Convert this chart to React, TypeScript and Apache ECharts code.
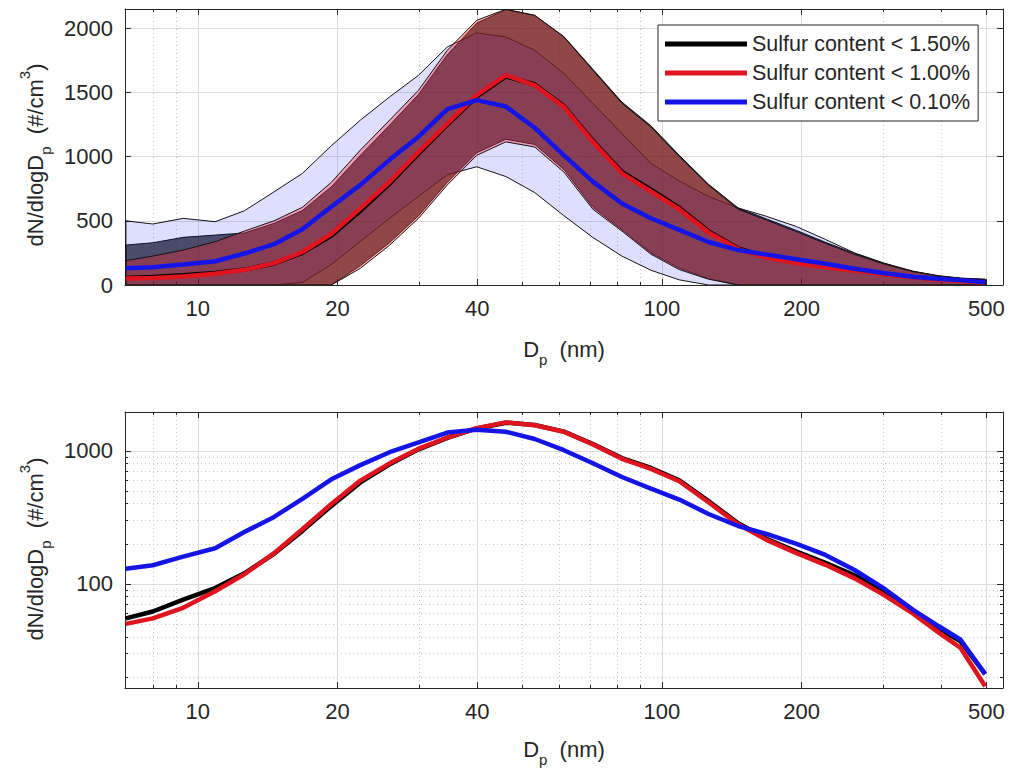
import React, { useEffect, useRef } from "react";
import * as echarts from "echarts";

// Particle diameter bins (nm)
const DP = [7.0, 8.0, 9.3, 10.9, 12.6, 14.6, 16.8, 19.4, 22.4, 25.9, 29.9, 34.5, 39.9, 46.1, 53.2, 61.5, 71.0, 82.0, 94.7, 109, 126, 146, 168, 195, 225, 260, 300, 347, 395, 440, 497];

// Median size distributions (#/cm3)
const K_MED = [55, 62, 76, 93, 120, 168, 250, 385, 578, 790, 1025, 1250, 1470, 1625, 1562, 1393, 1123, 880, 742, 600, 418, 285, 218, 175, 144, 116, 88, 63, 46, 37, 21];
const R_MED = [50, 55, 66, 88, 118, 170, 257, 398, 597, 804, 1037, 1258, 1479, 1634, 1556, 1388, 1115, 870, 730, 590, 410, 280, 214, 170, 139, 110, 83, 60, 43, 33, 17];
const B_MED = [130, 138, 160, 185, 245, 318, 435, 610, 780, 975, 1155, 1370, 1440, 1390, 1225, 1010, 805, 635, 520, 430, 335, 272, 237, 200, 165, 127, 93, 64, 48, 38, 21];

// Variability bands (upper / lower edges)
const K_HI = [311, 329, 371, 389, 405, 480, 580, 765, 1010, 1245, 1485, 1795, 2040, 2145, 2100, 1935, 1680, 1425, 1240, 1010, 785, 600, 515, 425, 333, 246, 170, 107, 72, 54, 45];
const K_LO = [0, 0, 0, 0, 0, 0, 0, 0, 150, 330, 540, 800, 1030, 1135, 1095, 900, 605, 430, 250, 130, 50, 0, 0, 0, 0, 0, 0, 0, 0, 0, 0];
const R_HI = [190, 225, 272, 337, 420, 500, 605, 800, 1051, 1284, 1518, 1829, 2062, 2148, 2101, 1932, 1673, 1416, 1230, 1000, 778, 590, 506, 415, 324, 239, 165, 104, 70, 52, 44];
const R_LO = [0, 0, 0, 0, 0, 0, 0, 0, 130, 310, 520, 780, 1010, 1115, 1075, 880, 590, 420, 240, 120, 45, 0, 0, 0, 0, 0, 0, 0, 0, 0, 0];
const B_HI = [500, 475, 519, 493, 578, 726, 869, 1085, 1284, 1465, 1634, 1855, 1964, 1932, 1829, 1647, 1414, 1180, 947, 810, 690, 600, 535, 455, 355, 250, 172, 108, 68, 50, 40];
const B_LO = [0, 0, 0, 0, 0, 0, 20, 160, 340, 520, 690, 860, 921, 845, 720, 540, 370, 225, 115, 40, 0, 0, 0, 0, 0, 0, 0, 0, 0, 0, 0];

const NAMES = ["Sulfur content < 1.50%", "Sulfur content < 1.00%", "Sulfur content < 0.10%"];

// Tick values
const X_MAJOR = [10, 20, 40, 100, 200, 500];
const X_MINOR = [8, 9, 30, 50, 60, 70, 80, 90, 300, 400];
const Y1_TICKS = [0, 500, 1000, 1500, 2000];
const Y2_MAJOR = [100, 1000];
const Y2_MINOR = [20, 30, 40, 50, 60, 70, 80, 90, 200, 300, 400, 500, 600, 700, 800, 900];

const X_MIN = 6.97;
const X_MAX = 543;
const FONT = "'Liberation Sans', Arial, Helvetica, sans-serif";
const AX = "#262626";
const GRID_MAJ = "#dcdcdc";
const GRID_MIN = "#c8c8c8";
const C_K = "#000000";
const C_R = "#e0141e";
const C_B = "#1414e6";

const fmt = (v: number) => String(Math.round(v));

function tickAxis(base: any, values: number[], len: number, showLine: boolean, split: any) {
  return {
    ...base,
    axisLine: { show: showLine, onZero: false, lineStyle: { color: AX, width: 1 } },
    axisTick: { show: true, inside: true, length: len, customValues: values, lineStyle: { color: AX, width: 1 } },
    axisLabel: { show: false },
    splitLine: split,
    minorTick: { show: false },
    minorSplitLine: { show: false },
  };
}

function xAxesFor(g: number) {
  const base = { type: "log", logBase: 10, gridIndex: g, min: X_MIN, max: X_MAX };
  const main = {
    ...base,
    position: "bottom",
    axisLine: { show: true, onZero: false, lineStyle: { color: AX, width: 1 } },
    axisTick: { show: true, inside: true, length: 6, customValues: X_MAJOR, lineStyle: { color: AX } },
    axisLabel: { show: true, customValues: X_MAJOR, formatter: fmt, margin: 12, color: AX, fontSize: 22, fontFamily: FONT },
    splitLine: { show: true, lineStyle: { color: GRID_MAJ, width: 1 } },
    minorTick: { show: false },
    minorSplitLine: { show: false },
  };
  return [
    main,
    tickAxis({ ...base, position: "bottom" }, X_MINOR, 3, false, { show: true, lineStyle: { color: GRID_MIN, width: 1, type: [1, 3] } }),
    tickAxis({ ...base, position: "top" }, X_MAJOR, 6, true, { show: false }),
    tickAxis({ ...base, position: "top" }, X_MINOR, 3, false, { show: false }),
  ];
}

const yAxes: any[] = [
  // grid 0 (linear)
  {
    type: "value", gridIndex: 0, min: 0, max: 2150, position: "left",
    axisLine: { show: true, onZero: false, lineStyle: { color: AX, width: 1 } },
    axisTick: { show: true, inside: true, length: 6, customValues: Y1_TICKS, lineStyle: { color: AX } },
    axisLabel: { show: true, customValues: Y1_TICKS, formatter: fmt, margin: 12, color: AX, fontSize: 22, fontFamily: FONT },
    splitLine: { show: true, lineStyle: { color: GRID_MAJ, width: 1 } },
  },
  tickAxis({ type: "value", gridIndex: 0, min: 0, max: 2150, position: "right" }, Y1_TICKS, 6, true, { show: false }),
  // grid 1 (log)
  {
    type: "log", logBase: 10, gridIndex: 1, min: 16.5, max: 1955, position: "left",
    axisLine: { show: true, onZero: false, lineStyle: { color: AX, width: 1 } },
    axisTick: { show: true, inside: true, length: 6, customValues: Y2_MAJOR, lineStyle: { color: AX } },
    axisLabel: { show: true, customValues: Y2_MAJOR, formatter: fmt, margin: 12, color: AX, fontSize: 22, fontFamily: FONT },
    splitLine: { show: true, lineStyle: { color: GRID_MAJ, width: 1 } },
    minorTick: { show: false },
    minorSplitLine: { show: false },
  },
  tickAxis({ type: "log", logBase: 10, gridIndex: 1, min: 16.5, max: 1955, position: "left" }, Y2_MINOR, 3, false, { show: true, lineStyle: { color: GRID_MIN, width: 1, type: [1, 3] } }),
  tickAxis({ type: "log", logBase: 10, gridIndex: 1, min: 16.5, max: 1955, position: "right" }, Y2_MAJOR, 6, true, { show: false }),
  tickAxis({ type: "log", logBase: 10, gridIndex: 1, min: 16.5, max: 1955, position: "right" }, Y2_MINOR, 3, false, { show: false }),
];

function band(name: string, lo: number[], hi: number[], fill: string) {
  const rows = DP.map((d, i) => [d, lo[i], hi[i]]);
  return {
    type: "custom",
    name,
    xAxisIndex: 0,
    yAxisIndex: 0,
    clip: true,
    silent: true,
    z: 2,
    data: rows,
    encode: { x: 0, y: [1, 2] },
    renderItem: (params: any, api: any) => {
      if (params.dataIndexInside !== 0) return null;
      const top: number[][] = [];
      const bot: number[][] = [];
      for (let i = 0; i < rows.length; i++) {
        top.push(api.coord([api.value(0, i), api.value(2, i)]));
        bot.push(api.coord([api.value(0, i), api.value(1, i)]));
      }
      return {
        type: "polygon",
        shape: { points: top.concat(bot.reverse()) },
        style: { fill, stroke: "#141414", lineWidth: 1 },
      };
    },
  };
}

function medLine(name: string, color: string, vals: number[], xi: number, yi: number, z: number) {
  return {
    type: "line",
    name,
    xAxisIndex: xi,
    yAxisIndex: yi,
    data: DP.map((d, i) => [d, vals[i]]),
    color,
    showSymbol: false,
    symbol: "none",
    lineStyle: { width: 4.5, color },
    z,
    silent: true,
    clip: true,
  };
}

const richMain = { fontSize: 22, fontFamily: FONT, fill: AX, lineHeight: 36, verticalAlign: "middle" };
const richSub = { fontSize: 15, fontFamily: FONT, fill: AX, lineHeight: 14, verticalAlign: "bottom" };
const richSup = { fontSize: 15, fontFamily: FONT, fill: AX, lineHeight: 18, verticalAlign: "top" };

function xTitle(y: number) {
  return {
    type: "text",
    x: 564,
    y,
    silent: true,
    style: {
      text: "{a|D}{s|p}{a|  (nm)}",
      rich: { a: richMain, s: richSub },
      align: "center",
      verticalAlign: "middle",
    },
  };
}

function yTitle(y: number) {
  return {
    type: "text",
    x: 35,
    y,
    rotation: Math.PI / 2,
    silent: true,
    style: {
      text: "{a|dN/dlogD}{s|p}{a|  (#/cm}{u|3}{a|)}",
      rich: { a: richMain, s: richSub, u: richSup },
      align: "center",
      verticalAlign: "middle",
    },
  };
}

export default function App() {
  const ref = useRef<HTMLDivElement>(null);
  useEffect(() => {
    if (!ref.current) return;
    const chart = echarts.init(ref.current, undefined, { renderer: "svg" });
    const option: any = {
      animation: false,
      backgroundColor: "#ffffff",
      textStyle: { fontFamily: FONT },
      grid: [
        { left: 125, top: 9, width: 878, height: 276, containLabel: false, outerBoundsMode: "none" },
        { left: 125, top: 412, width: 878, height: 276, containLabel: false, outerBoundsMode: "none" },
      ],
      xAxis: [...xAxesFor(0), ...xAxesFor(1)],
      yAxis: yAxes,
      legend: {
        orient: "vertical",
        left: 658,
        top: 25,
        data: NAMES.map((n) => ({ name: n, icon: "rect" })),
        itemWidth: 82,
        itemHeight: 5,
        itemGap: 7,
        padding: [8, 8, 8, 7],
        backgroundColor: "#ffffff",
        borderColor: AX,
        borderWidth: 1,
        borderRadius: 0,
        selectedMode: false,
        textStyle: { fontSize: 21.5, color: AX, fontFamily: FONT },
        z: 20,
      },
      graphic: [xTitle(349), xTitle(749), yTitle(155), yTitle(549)],
      series: [
        band("band-k", K_LO, K_HI, "rgba(0,0,0,0.66)"),
        band("band-b", B_LO, B_HI, "rgba(0,0,255,0.13)"),
        band("band-r", R_LO, R_HI, "rgba(255,40,40,0.34)"),
        medLine(NAMES[0], C_K, K_MED, 0, 0, 3),
        medLine(NAMES[1], C_R, R_MED, 0, 0, 4),
        medLine(NAMES[2], C_B, B_MED, 0, 0, 5),
        medLine(NAMES[0], C_K, K_MED, 4, 2, 3),
        medLine(NAMES[1], C_R, R_MED, 4, 2, 4),
        medLine(NAMES[2], C_B, B_MED, 4, 2, 5),
      ],
    };
    chart.setOption(option);
    return () => chart.dispose();
  }, []);
  return (
    <div
      ref={ref}
      style={{ position: "fixed", left: 0, top: 0, width: 1012, height: 773, background: "#fff" }}
    />
  );
}
